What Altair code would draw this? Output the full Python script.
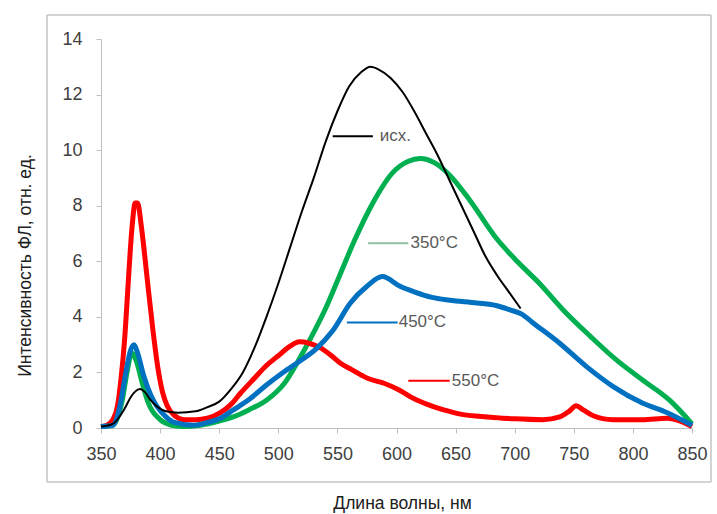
import altair as alt
import pandas as pd

# ---- data ----
black_x = [350, 360, 370, 375, 380, 383, 387, 392, 398, 405, 415, 430, 440, 450, 460, 470, 480, 490, 500, 510,
           520, 530, 540, 550, 560, 570, 578, 585, 595, 605, 615, 625, 635, 645, 655, 665, 675, 685, 695, 705]
black_y = [0.05, 0.15, 0.7, 1.1, 1.35, 1.4, 1.3, 1.0, 0.75, 0.6, 0.55, 0.6, 0.75, 0.95, 1.4, 2.0, 2.9, 4.0, 5.2, 6.5,
           7.8, 9.0, 10.3, 11.4, 12.3, 12.8, 13.0, 12.9, 12.6, 12.1, 11.4, 10.6, 9.8, 8.9, 8.0, 7.1, 6.2, 5.5, 4.9, 4.3]

green_x = [350, 360, 368, 372, 376, 380, 385, 390, 400, 410, 420, 434, 450, 462, 475, 490, 505, 518, 527, 540,
           552, 565, 580, 597, 610, 620, 632, 645, 662, 685, 702, 721, 741, 764, 786, 809, 831, 850]
green_y = [0.05, 0.1, 1.0, 2.0, 2.7, 2.4, 1.6, 0.9, 0.3, 0.1, 0.05, 0.1, 0.25, 0.4, 0.65, 1.0, 1.6, 2.5, 3.2, 4.3,
           5.5, 6.8, 8.1, 9.2, 9.6, 9.7, 9.55, 9.1, 8.2, 6.8, 6.0, 5.2, 4.25, 3.3, 2.45, 1.7, 1.0, 0.15]

blue_x = [350, 360, 366, 371, 375, 378, 381, 386, 392, 397, 405, 412, 428, 440, 451, 462, 476, 490, 504, 518,
          532, 546, 561, 575, 588, 603, 615, 630, 645, 668, 685, 696, 706, 715, 738, 761, 783, 808, 829, 850]
blue_y = [0.05, 0.1, 0.8, 2.0, 2.8, 3.0, 2.7, 1.9, 1.2, 0.8, 0.4, 0.2, 0.1, 0.2, 0.35, 0.65, 1.05, 1.55, 2.0, 2.4,
          2.85, 3.5, 4.5, 5.1, 5.45, 5.1, 4.9, 4.7, 4.6, 4.5, 4.4, 4.25, 4.1, 3.8, 3.05, 2.2, 1.5, 0.9, 0.55, 0.1]

red_x = [350, 355, 360, 364, 367, 370, 373, 376, 379, 381, 384, 387, 390, 394, 398, 402, 406, 412, 420, 430,
         440, 451, 460, 468, 480, 490, 500, 510, 518, 526, 535, 545, 552, 562, 575, 590, 603, 615, 626, 640,
         654, 670, 682, 700, 724, 738, 746, 752, 758, 766, 783, 808, 829, 840, 850]
red_y = [0.05, 0.1, 0.3, 0.8, 1.8, 3.2, 5.2, 7.1, 8.1, 8.1, 7.3, 6.2, 5.0, 3.5, 2.2, 1.3, 0.8, 0.45, 0.3, 0.3,
         0.35, 0.55, 0.85, 1.25, 1.8, 2.25, 2.6, 2.95, 3.1, 3.05, 2.9, 2.6, 2.35, 2.1, 1.8, 1.6, 1.35, 1.05, 0.85, 0.65,
         0.5, 0.42, 0.38, 0.33, 0.3, 0.4, 0.6, 0.8, 0.65, 0.45, 0.3, 0.3, 0.35, 0.25, 0.05]

series_names = ["350°C", "550°C", "450°C", "исх."]
series_colors = ["#00b050", "#ff0000", "#0070c0", "#000000"]
series_widths = [5, 5, 5, 2]

# inline labels with leader lines
label_text = ["исх.", "350°C", "450°C", "550°C"]
label_y = [10.5, 6.65, 3.8, 1.7]
lead_x1 = [546, 576, 558, 610]
lead_x2 = [580, 610, 601, 645]
label_x = [585, 611, 601, 646]
lead_colors = ["#000000", "#8fbf9f", "#0070c0", "#ff0000"]

x_ticks = [350, 400, 450, 500, 550, 600, 650, 700, 750, 800, 850]
y_ticks = [0, 2, 4, 6, 8, 10, 12, 14]

FONT = "Liberation Sans Narrow, Liberation Sans, sans-serif"
TXT = "#404040"

rows = []
for name, xs, ys in [("исх.", black_x, black_y), ("350°C", green_x, green_y),
                     ("450°C", blue_x, blue_y), ("550°C", red_x, red_y)]:
    for a, b in zip(xs, ys):
        rows.append({"series": name, "wl": a, "val": b})
df = pd.DataFrame(rows)

xscale = alt.Scale(domain=[350, 850], nice=False, zero=False)
yscale = alt.Scale(domain=[0, 14], nice=False)

xaxis = alt.Axis(values=x_ticks, title="Длина волны, нм", grid=False, domainColor="#bfbfbf",
                 tickColor="#bfbfbf", tickSize=5, labelPadding=12, labelFont=FONT, labelFontSize=18,
                 labelFlush=False, labelColor=TXT, titleFont=FONT, titleFontSize=17.5,
                 titleFontWeight="normal", titleColor="#202020", titleX=301, titleY=75,
                 titleBaseline="middle", titleAlign="center")
yaxis = alt.Axis(values=y_ticks, title="Интенсивность ФЛ, отн. ед.", grid=False, domainColor="#bfbfbf",
                 tickColor="#bfbfbf", tickSize=5, labelPadding=14, labelFont=FONT, labelFontSize=18,
                 labelFlush=False, labelColor=TXT, titleFont=FONT, titleFontSize=17.5,
                 titleFontWeight="normal", titleColor="#202020", titleX=-76, titleY=226, titleAngle=-90,
                 titleBaseline="middle", titleAlign="center")

one = pd.DataFrame({"a": [0]})
FR = dict(color="#c4c4c4", strokeWidth=1.5)
frame_top = alt.Chart(one).mark_rule(**FR).encode(x=alt.value(-54), x2=alt.value(610), y=alt.value(-24))
frame_bot = alt.Chart(one).mark_rule(**FR).encode(x=alt.value(-54), x2=alt.value(610), y=alt.value(443))
frame_lft = alt.Chart(one).mark_rule(**FR).encode(x=alt.value(-54), y=alt.value(-24), y2=alt.value(443))
frame_rgt = alt.Chart(one).mark_rule(**FR).encode(x=alt.value(610), y=alt.value(-24), y2=alt.value(443))

layers = [frame_top, frame_bot, frame_lft, frame_rgt]
for name, col, w in zip(series_names, series_colors, series_widths):
    layers.append(
        alt.Chart(df[df.series == name]).mark_line(color=col, strokeWidth=w, interpolate="monotone").encode(
            x=alt.X("wl:Q", scale=xscale, axis=xaxis),
            y=alt.Y("val:Q", scale=yscale, axis=yaxis),
        )
    )

lab = pd.DataFrame({"t": label_text, "y": label_y, "x1": lead_x1, "x2": lead_x2, "lx": label_x,
                    "c": lead_colors})
leaders = alt.Chart(lab).mark_rule(strokeWidth=2).encode(
    x=alt.X("x1:Q", scale=xscale), x2="x2:Q", y=alt.Y("y:Q", scale=yscale),
    color=alt.Color("c:N", scale=None),
)
texts = alt.Chart(lab).mark_text(align="left", baseline="middle", dx=1, font=FONT, fontSize=17,
                                  color="#595959").encode(
    x=alt.X("lx:Q", scale=xscale), y=alt.Y("y:Q", scale=yscale), text="t:N"
)
layers += [leaders, texts]

chart = alt.layer(*layers).properties(
    width=591, height=389,
    autosize=alt.AutoSizeParams(type="none"),
    padding={"left": 101, "top": 39, "right": 25, "bottom": 86},
    background="white",
).configure_view(stroke=None)

chart.save("out.html", embed_options={"renderer": "svg", "actions": False})
